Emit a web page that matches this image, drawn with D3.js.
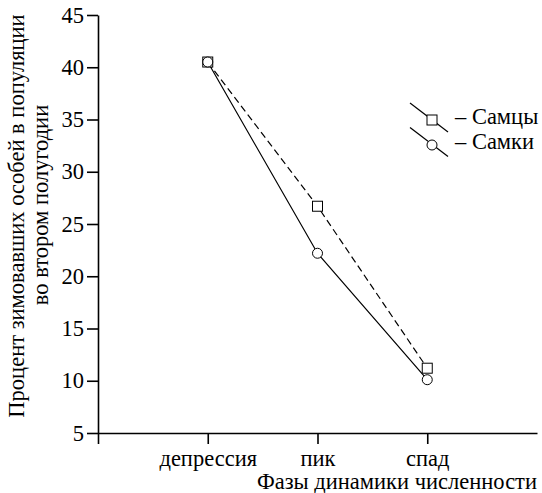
<!DOCTYPE html>
<html>
<head>
<meta charset="utf-8">
<script src="https://cdn.jsdelivr.net/npm/d3@7"></script>
<style>
  body { margin: 0; background: #fff; }
</style>
</head>
<body>
<svg id="chart" width="542" height="493"></svg>
<script>
// data
const phases = ["депрессия", "пик", "спад"]
const males = [40.5, 26.7, 11.2]
const females = [40.5, 22.2, 10.1]
const yTicks = [5, 10, 15, 20, 25, 30, 35, 40, 45]

const FONT = "Liberation Serif"
const FS = 22.5

const svg = d3.select("#chart")

// scales: phases at positions 1..3 on a 0..4 axis
const x = d3.scaleLinear().domain([0, 4]).range([98, 537])
const y = d3.scaleLinear().domain([5, 45]).range([433, 15])

// y axis
const yAxis = svg.append("g")
    .attr("transform", "translate(98,0)")
    .call(d3.axisLeft(y).tickValues(yTicks).tickSize(11).tickPadding(3).tickSizeOuter(0))
yAxis.select(".domain").attr("stroke-width", 1.6)
yAxis.selectAll(".tick line").attr("stroke-width", 1.6)
yAxis.selectAll("text").attr("fill", "#000")
    .style("font-family", FONT).style("font-size", FS + "px")

// x axis
const xAxis = svg.append("g")
    .attr("transform", "translate(0,433)")
    .call(d3.axisBottom(x).tickValues([0, 1, 2, 3])
        .tickFormat(d => d === 0 ? "" : phases[d - 1])
        .tickSize(11).tickPadding(6).tickSizeOuter(0))
xAxis.select(".domain").attr("stroke-width", 1.6)
xAxis.selectAll(".tick line").attr("stroke-width", 1.6)
xAxis.selectAll("text").attr("fill", "#000")
    .style("font-family", FONT).style("font-size", FS + "px")

// axis titles
svg.append("text")
    .attr("x", 537).attr("y", 489)
    .attr("text-anchor", "end")
    .style("font-family", FONT).style("font-size", FS + "px")
    .text("Фазы динамики численности")

svg.append("text")
    .attr("transform", "translate(24,216) rotate(-90)")
    .attr("text-anchor", "middle")
    .style("font-family", FONT).style("font-size", FS + "px")
    .text("Процент зимовавших особей в популяции")

svg.append("text")
    .attr("transform", "translate(48,205) rotate(-90)")
    .attr("text-anchor", "middle")
    .style("font-family", FONT).style("font-size", FS + "px")
    .text("во втором полугодии")

// lines
const line = d3.line().x((d, i) => x(i + 1)).y(d => y(d))

svg.append("path")
    .datum(males)
    .attr("d", line)
    .attr("fill", "none")
    .attr("stroke", "#000")
    .attr("stroke-width", 1.2)
    .attr("stroke-dasharray", "7,4")

svg.append("path")
    .datum(females)
    .attr("d", line)
    .attr("fill", "none")
    .attr("stroke", "#000")
    .attr("stroke-width", 1.2)

// markers
svg.selectAll("rect.male")
    .data(males)
    .enter()
    .append("rect")
    .attr("class", "male")
    .attr("x", (d, i) => x(i + 1) - 5)
    .attr("y", d => y(d) - 5)
    .attr("width", 10)
    .attr("height", 10)
    .attr("fill", "#fff")
    .attr("stroke", "#000")
    .attr("stroke-width", 1)

svg.selectAll("circle.female")
    .data(females)
    .enter()
    .append("circle")
    .attr("class", "female")
    .attr("cx", (d, i) => x(i + 1))
    .attr("cy", d => y(d))
    .attr("r", 5)
    .attr("fill", "#fff")
    .attr("stroke", "#000")
    .attr("stroke-width", 1)

// legend
const legend = svg.append("g").attr("transform", "translate(410,103)")
const legendItems = [
    { label: "– Самцы", shape: "rect" },
    { label: "– Самки", shape: "circle" }
]
legend.selectAll("g.item")
    .data(legendItems)
    .enter()
    .append("g")
    .attr("class", "item")
    .attr("transform", (d, i) => `translate(0, ${i * 24.5})`)
    .each(function (d) {
        const g = d3.select(this)
        g.append("line")
            .attr("x1", 0).attr("y1", 0)
            .attr("x2", 38).attr("y2", 29)
            .attr("stroke", "#000").attr("stroke-width", 1.2)
        if (d.shape === "rect") {
            g.append("rect")
                .attr("x", 17).attr("y", 12).attr("width", 10).attr("height", 10)
                .attr("fill", "#fff").attr("stroke", "#000")
        } else {
            g.append("circle")
                .attr("cx", 22).attr("cy", 17.5).attr("r", 5)
                .attr("fill", "#fff").attr("stroke", "#000")
        }
        g.append("text")
            .attr("x", 45).attr("y", 21)
            .style("font-family", FONT).style("font-size", FS + "px")
            .text(d.label)
    })
</script>
</body>
</html>
